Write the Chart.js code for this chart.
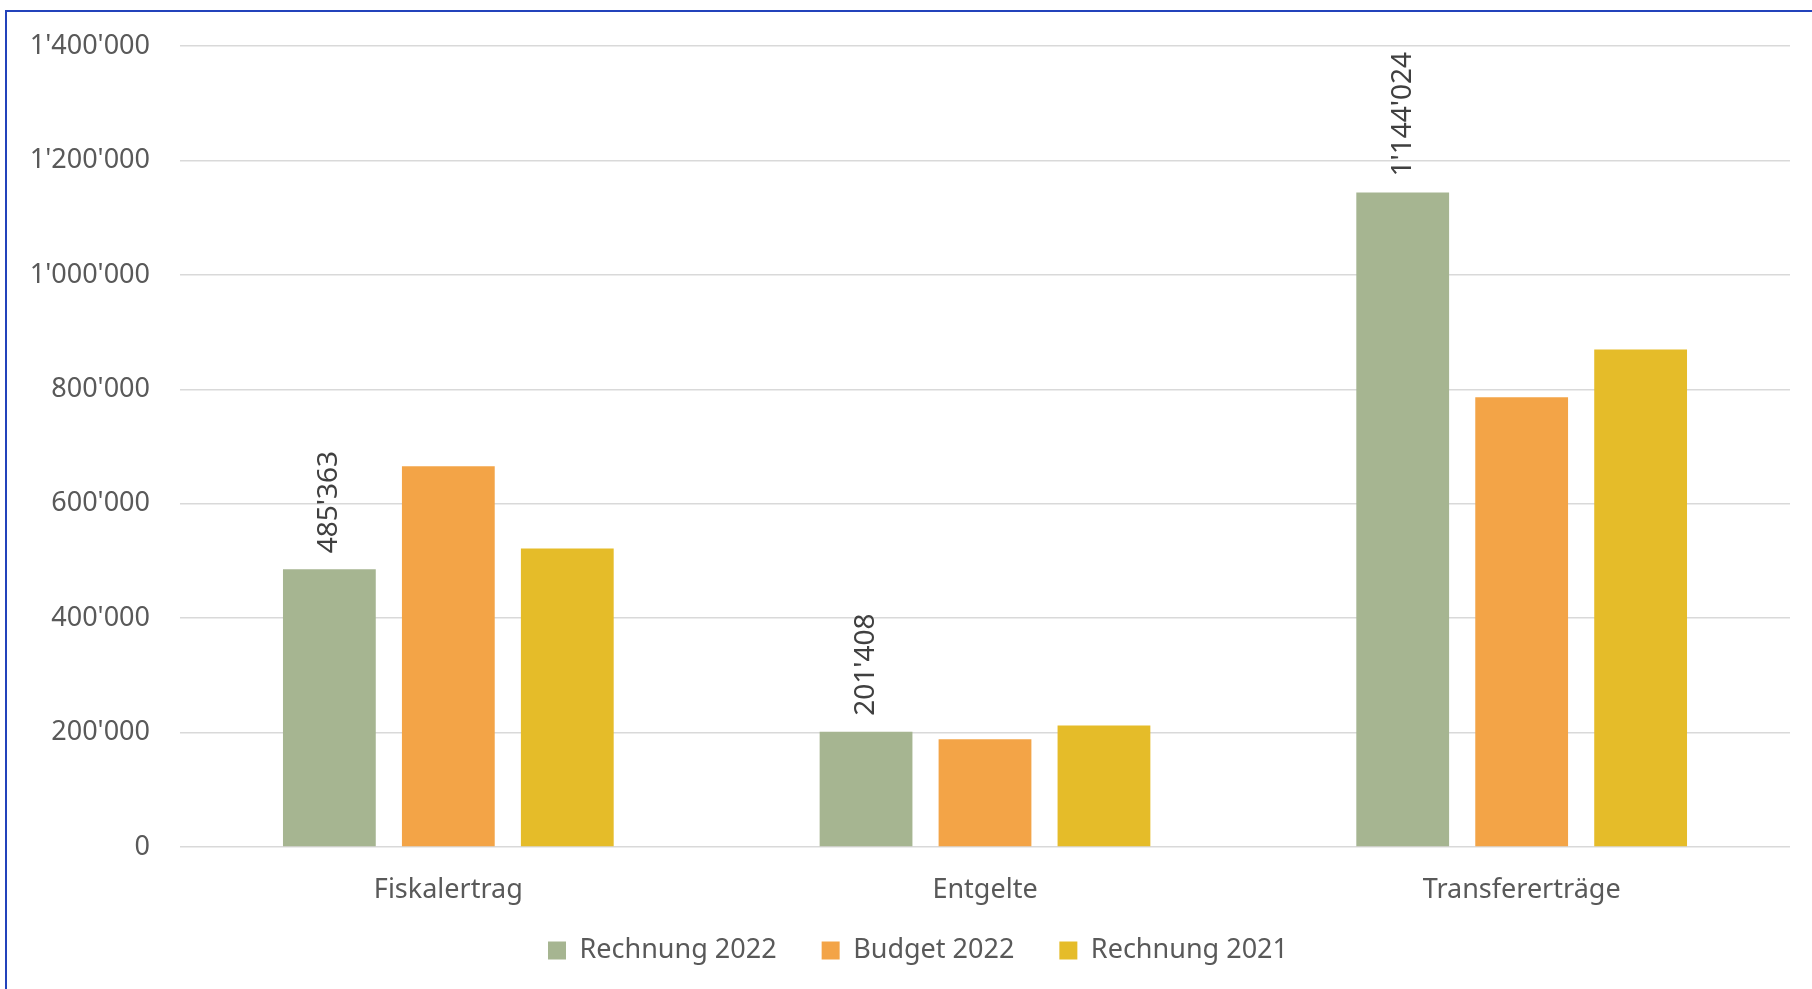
<!DOCTYPE html>
<html>
<head>
<meta charset="utf-8">
<script src="https://cdn.jsdelivr.net/npm/chart.js@4"></script>
<style>
  html, body { margin: 0; padding: 0; background: #fff; overflow: hidden; }
  #frame { position: absolute; left: 5px; top: 10px; width: 1900px; height: 1100px; border: 2px solid #2343bb; box-sizing: border-box; }
  #wrap { position: absolute; left: 0; top: 0; width: 1812px; height: 989px; }
</style>
</head>
<body>
<div id="frame"></div>
<div id="wrap"><canvas id="chart"></canvas></div>
<script>
const categories = ['Fiskalertrag', 'Entgelte', 'Transfererträge'];
const rechnung2022 = [485363, 201408, 1144024];
const budget2022 = [665500, 188300, 786400];
const rechnung2021 = [522000, 212200, 869600];
const yTicks = [0, 200000, 400000, 600000, 800000, 1000000, 1200000, 1400000];

const FONT = '"Noto Sans", sans-serif';

function fmt(v) {
    return String(Math.round(v)).replace(/\B(?=(\d{3})+(?!\d))/g, "'");
}

// rotated value labels on the first series only
const valueLabels = {
    id: 'valueLabels',
    afterDatasetsDraw(chart) {
        const ctx = chart.ctx;
        const meta = chart.getDatasetMeta(0);
        ctx.save();
        ctx.font = '28px ' + FONT;
        ctx.fillStyle = '#404040';
        ctx.textAlign = 'left';
        ctx.textBaseline = 'middle';
        meta.data.forEach((bar, i) => {
            ctx.save();
            ctx.translate(bar.x, bar.y - 16);
            ctx.rotate(-Math.PI / 2);
            ctx.fillText(fmt(chart.data.datasets[0].data[i]), 0, 0);
            ctx.restore();
        });
        ctx.restore();
    }
};

// nudge the legend a bit right and up, like the original
const legendShift = {
    id: 'legendShift',
    afterLayout(chart) {
        const lg = chart.legend;
        lg.left += 18; lg.right += 18;
        lg.top -= 15; lg.bottom -= 15;
    }
};

const ctx = document.getElementById('chart').getContext('2d');
new Chart(ctx, {
    type: 'bar',
    data: {
        labels: categories,
        datasets: [
            { label: 'Rechnung 2022', data: rechnung2022, backgroundColor: '#a6b591' },
            { label: 'Budget 2022', data: budget2022, backgroundColor: '#f3a447' },
            { label: 'Rechnung 2021', data: rechnung2021, backgroundColor: '#e5bc29' }
        ]
    },
    options: {
        responsive: true,
        maintainAspectRatio: false,
        devicePixelRatio: 1,
        animation: false,
        categoryPercentage: 0.665,
        barPercentage: 0.78,
        layout: {
            padding: { left: 10, right: 22, top: 43, bottom: 0 }
        },
        scales: {
            x: {
                grid: { display: false },
                border: { display: false },
                ticks: {
                    color: '#595959',
                    font: { family: FONT, size: 27 },
                    padding: 19
                },
                afterFit(scale) { scale.height = 60; }
            },
            y: {
                min: 0,
                max: 1400000,
                afterBuildTicks(scale) { scale.ticks = yTicks.map(v => ({ value: v })); },
                grid: { color: '#d9d9d9', lineWidth: 1.5, drawTicks: false },
                border: { display: false },
                ticks: {
                    color: '#595959',
                    font: { family: FONT, size: 27 },
                    padding: 30,
                    callback: v => fmt(v)
                },
                afterFit(scale) { scale.width = 170; }
            }
        },
        plugins: {
            legend: {
                position: 'bottom',
                labels: {
                    color: '#595959',
                    font: { family: FONT, size: 27 },
                    boxWidth: 18,
                    boxHeight: 18,
                    padding: 45
                }
            },
            tooltip: { enabled: false }
        }
    },
    plugins: [valueLabels, legendShift]
});
</script>
</body>
</html>
